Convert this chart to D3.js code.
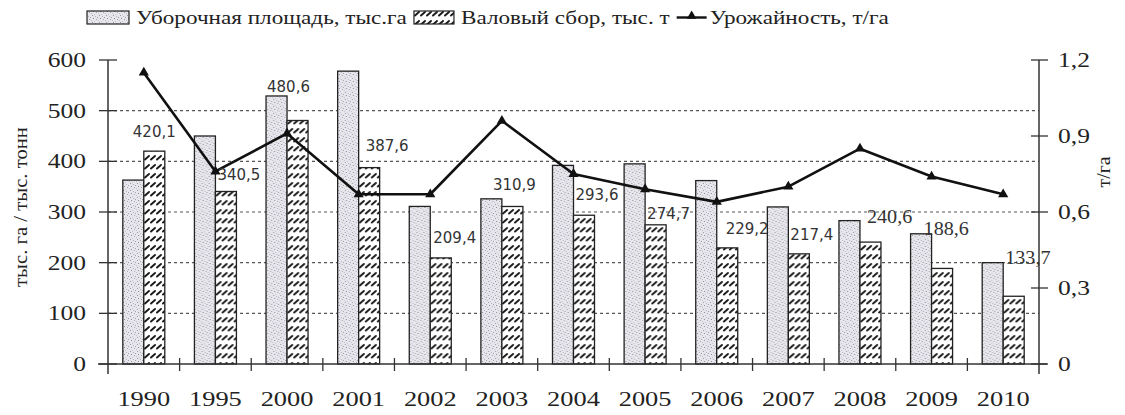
<!DOCTYPE html>
<html>
<head>
<meta charset="utf-8">
<script src="https://cdn.jsdelivr.net/npm/d3@7"></script>
<style>
  html, body { margin: 0; padding: 0; background: #fff; }
  svg { display: block; }
  text { font-family: "Liberation Serif", "Times New Roman", serif; fill: #222; }
</style>
</head>
<body>
<svg id="chart" width="1125" height="415"></svg>
<script>
// Sugar beet: harvested area, gross harvest and yield by year
const years = ["1990", "1995", "2000", "2001", "2002", "2003", "2004", "2005", "2006", "2007", "2008", "2009", "2010"];
const areaValues = [363, 450, 529, 578, 311, 326, 392, 395, 362, 310, 283, 257, 200];          // тыс. га
const harvestValues = [420.1, 340.5, 480.6, 387.6, 209.4, 310.9, 293.6, 274.7, 229.2, 217.4, 240.6, 188.6, 133.7]; // тыс. т
const yieldValues = [1.15, 0.76, 0.91, 0.67, 0.67, 0.96, 0.75, 0.69, 0.64, 0.70, 0.85, 0.74, 0.67];  // т/га
const leftTicks = [0, 100, 200, 300, 400, 500, 600];
const rightTicks = [0, 0.3, 0.6, 0.9, 1.2];
const legendLabels = ["Уборочная площадь, тыс.га", "Валовый сбор, тыс. т", "Урожайность, т/га"];
const leftTitle = "тыс. га / тыс. тонн";
const rightTitle = "т/га";

const svg = d3.select("#chart");
const plot = { left: 108, right: 1039, top: 60, bottom: 364 };
const SX = 1.16; // horizontal stretch of the serif lettering

// --- fills -------------------------------------------------------------
const defs = svg.append("defs");
const stipple = defs.append("pattern").attr("id", "stipple")
  .attr("patternUnits", "userSpaceOnUse").attr("width", 7).attr("height", 7);
stipple.append("rect").attr("width", 7).attr("height", 7).attr("fill", "#e6e6ec");
[[1,1,"#9a9aa2"],[4,2,"#b5b5bd"],[2,4,"#8c8c94"],[5,5,"#a8a8b0"],[0,6,"#c0c0c8"],[6,3,"#9f9fa7"],[3,0,"#c4c4cc"]]
  .forEach(([x, y, c]) => stipple.append("rect").attr("x", x).attr("y", y)
    .attr("width", 1).attr("height", 1).attr("fill", c));

const hatch = defs.append("pattern").attr("id", "hatch")
  .attr("patternUnits", "userSpaceOnUse").attr("width", 6).attr("height", 9);
hatch.append("rect").attr("width", 6).attr("height", 9).attr("fill", "#fff");
hatch.append("line").attr("x1", 1).attr("y1", 6.5).attr("x2", 5).attr("y2", 3)
  .attr("stroke", "#1a1a1a").attr("stroke-width", 1.9).attr("stroke-linecap", "round");

// --- scales --------------------------------------------------------------
const x = d3.scaleBand().domain(years).range([plot.left, plot.right]).padding(0);
const step = x.step();
const xs = d3.scaleBand().domain(["area", "harvest"]).range([step / 2 - 21, step / 2 + 21]);
const yL = d3.scaleLinear().domain([0, 600]).range([plot.bottom, plot.top]);
const yR = d3.scaleLinear().domain([0, 1.2]).range([plot.bottom, plot.top]);

function stretchText(sel, sx) {
  sel.each(function () {
    const t = d3.select(this);
    const px = +t.attr("x") || 0, py = +t.attr("y") || 0;
    t.attr("x", 0).attr("y", 0).attr("transform", `translate(${px},${py}) scale(${sx},1)`);
  });
}

// --- gridlines -------------------------------------------------------------
svg.append("g").selectAll("line").data(leftTicks.filter(d => d > 0 && d < 600)).join("line")
  .attr("x1", plot.left).attr("x2", plot.right)
  .attr("y1", d => yL(d)).attr("y2", d => yL(d))
  .attr("stroke", "#555").attr("stroke-width", 1.1).attr("stroke-dasharray", "3,3");

// --- bars ----------------------------------------------------------------
const groups = svg.append("g").selectAll("g").data(years).join("g")
  .attr("transform", d => `translate(${x(d)},0)`);
groups.append("rect")
  .attr("x", xs("area")).attr("width", xs.bandwidth())
  .attr("y", (d, i) => yL(areaValues[i])).attr("height", (d, i) => yL(0) - yL(areaValues[i]))
  .attr("fill", "url(#stipple)").attr("stroke", "#222").attr("stroke-width", 1.3);
groups.append("rect")
  .attr("x", xs("harvest")).attr("width", xs.bandwidth())
  .attr("y", (d, i) => yL(harvestValues[i])).attr("height", (d, i) => yL(0) - yL(harvestValues[i]))
  .attr("fill", "url(#hatch)").attr("stroke", "#222").attr("stroke-width", 1.3);

// --- axes ----------------------------------------------------------------
const axisColor = "#333";
// baseline with category separators
svg.append("line").attr("x1", plot.left - 10).attr("x2", plot.right + 8)
  .attr("y1", plot.bottom).attr("y2", plot.bottom).attr("stroke", axisColor).attr("stroke-width", 1.5);
svg.append("g").selectAll("line").data(years.slice(1)).join("line")
  .attr("x1", d => x(d)).attr("x2", d => x(d))
  .attr("y1", plot.bottom - 6).attr("y2", plot.bottom + 7)
  .attr("stroke", axisColor).attr("stroke-width", 1.3);

// left axis
svg.append("line").attr("x1", plot.left).attr("x2", plot.left)
  .attr("y1", plot.top).attr("y2", plot.bottom + 10).attr("stroke", axisColor).attr("stroke-width", 1.5);
svg.append("g").selectAll("line").data(leftTicks).join("line")
  .attr("x1", plot.left - 9).attr("x2", plot.left + 9)
  .attr("y1", d => yL(d)).attr("y2", d => yL(d))
  .attr("stroke", axisColor).attr("stroke-width", 1.3);
svg.append("g").selectAll("text").data(leftTicks).join("text")
  .attr("x", 86).attr("y", d => yL(d) + 7)
  .attr("text-anchor", "end").attr("font-size", 22)
  .text(d => d3.format("d")(d))
  .call(stretchText, SX);

// right axis
svg.append("line").attr("x1", plot.right).attr("x2", plot.right)
  .attr("y1", plot.top).attr("y2", plot.bottom + 10).attr("stroke", axisColor).attr("stroke-width", 1.5);
svg.append("g").selectAll("line").data(rightTicks).join("line")
  .attr("x1", plot.right - 8).attr("x2", plot.right + 9)
  .attr("y1", d => yR(d)).attr("y2", d => yR(d))
  .attr("stroke", axisColor).attr("stroke-width", 1.3);
svg.append("g").selectAll("text").data(rightTicks).join("text")
  .attr("x", 1058).attr("y", d => yR(d) + 7)
  .attr("text-anchor", "start").attr("font-size", 22)
  .text(d => d === 0 ? "0" : d3.format(".1f")(d).replace(".", ","))
  .call(stretchText, SX);

// category labels
svg.append("g").selectAll("text").data(years).join("text")
  .attr("x", d => x(d) + step / 2).attr("y", 406)
  .attr("text-anchor", "middle").attr("font-size", 22)
  .text(d => d)
  .call(stretchText, 1.2);

// axis titles
svg.append("text").attr("transform", "translate(27,207) rotate(-90) scale(1.15,1)")
  .attr("text-anchor", "middle").attr("font-size", 18).text(leftTitle);
svg.append("text").attr("transform", "translate(1110,172) rotate(-90) scale(1.1,1)")
  .attr("text-anchor", "middle").attr("font-size", 18).text(rightTitle);

// --- yield line ------------------------------------------------------------
const linePts = years.map((d, i) => [x(d) + step / 2, yR(yieldValues[i])]);
svg.append("path").attr("d", d3.line()(linePts))
  .attr("fill", "none").attr("stroke", "#111").attr("stroke-width", 2.6).attr("stroke-linejoin", "round");
svg.append("g").selectAll("path").data(linePts).join("path")
  .attr("transform", d => `translate(${d[0]},${d[1]})`)
  .attr("d", d3.symbol(d3.symbolTriangle, 45)())
  .attr("fill", "#111");

// --- value labels on gross harvest -------------------------------------------
// offsets of each label from the top-left corner of its harvest bar
const labelNudge = [[-11, -14], [2, -11], [-20, -28], [7, -17], [3, -15], [-9, -16], [2, -15], [2, -6],
                    [9, -14], [2, -14], [7, -19], [-8, -33], [2, -32]];
const serifFrom = 10;
svg.append("g").selectAll("text").data(years).join("text")
  .attr("x", (d, i) => x(d) + xs("harvest") + labelNudge[i][0])
  .attr("y", (d, i) => yL(harvestValues[i]) + labelNudge[i][1])
  .attr("font-size", (d, i) => i >= serifFrom ? 18 : 15)
  .style("font-family", (d, i) => i >= serifFrom ? null : "'DejaVu Sans', sans-serif")
  .style("fill", "#333")
  .text((d, i) => d3.format(".1f")(harvestValues[i]).replace(".", ","))
  .each(function (d, i) { if (i >= serifFrom) d3.select(this).call(stretchText, 1.12); });

// --- legend: swatch + label, laid out left to right ----------------------------
const legend = svg.append("g");
const legendSX = 1.22;
const swatchW = [42, 40, 30];
let cursor = 87;
legendLabels.forEach((label, i) => {
  if (i === 0) {
    legend.append("rect").attr("x", cursor).attr("y", 11).attr("width", swatchW[i]).attr("height", 13)
      .attr("fill", "url(#stipple)").attr("stroke", "#222").attr("stroke-width", 1.2);
  } else if (i === 1) {
    legend.append("rect").attr("x", cursor).attr("y", 11).attr("width", swatchW[i]).attr("height", 13)
      .attr("fill", "url(#hatch)").attr("stroke", "#222").attr("stroke-width", 1.2);
  } else {
    legend.append("line").attr("x1", cursor).attr("x2", cursor + swatchW[i]).attr("y1", 17.5).attr("y2", 17.5)
      .attr("stroke", "#111").attr("stroke-width", 2.4);
    legend.append("path").attr("transform", `translate(${cursor + swatchW[i] / 2},16)`)
      .attr("d", d3.symbol(d3.symbolTriangle, 40)()).attr("fill", "#111");
  }
  cursor += swatchW[i] + (i === 2 ? 3 : 7);
  const t = legend.append("text").attr("x", cursor).attr("y", 24).attr("font-size", 19).text(label);
  const w = t.node().getComputedTextLength() * legendSX;
  t.call(stretchText, legendSX);
  cursor += w + 7;
});
</script>
</body>
</html>
